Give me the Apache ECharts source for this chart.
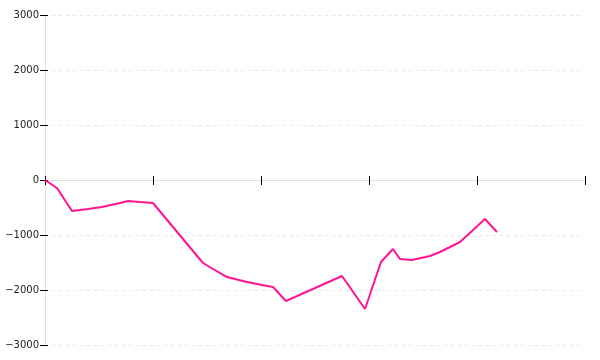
<!DOCTYPE html>
<html><head><meta charset="utf-8">
<script src="https://cdn.jsdelivr.net/npm/echarts@6/dist/echarts.min.js"></script>
<style>html,body{margin:0;padding:0;background:#fff}#c{width:600px;height:360px}</style>
</head><body><div id="c"></div>
<script>
const xValues = [0, 1.11, 2.5, 3.98, 5.28, 6.94, 7.69, 8.8, 10.0, 14.63, 16.85, 18.7, 20.09, 21.11, 22.31, 27.5, 29.63, 31.11, 32.22, 32.87, 33.98, 35.65, 36.57, 38.43, 40.74, 41.85];
const yValues = [0, -145, -564, -527, -491, -418, -382, -400, -418, -1509, -1764, -1855, -1909, -1945, -2200, -1745, -2345, -1491, -1255, -1436, -1455, -1382, -1309, -1127, -709, -945];
const yTicks = [-3000, -2000, -1000, 0, 1000, 2000, 3000];
const xTicks = [0, 10, 20, 30, 40, 50];

const chart = echarts.init(document.getElementById('c'), null, {renderer: 'canvas'});
const fmt = v => (v < 0 ? '\u2212' + Math.abs(v) : String(v));
chart.setOption({
  animation: false,
  grid: {left: 45, right: 15, top: 15, bottom: 15},
  xAxis: [{
    type: 'value', min: xTicks[0], max: xTicks[xTicks.length - 1], interval: 10,
    axisLine: {show: true, onZero: true, lineStyle: {color: '#dddddd', width: 1}},
    axisTick: {show: true, length: 5, lineStyle: {color: '#000', width: 1}},
    axisLabel: {show: false},
    splitLine: {show: false}
  }, {
    type: 'value', min: xTicks[0], max: xTicks[xTicks.length - 1], interval: 10,
    position: 'bottom',
    axisLine: {show: false, onZero: true},
    axisTick: {show: true, inside: true, length: 4, lineStyle: {color: '#000', width: 1}},
    axisLabel: {show: false},
    splitLine: {show: false}
  }],
  yAxis: [{
    type: 'value', min: yTicks[0], max: yTicks[yTicks.length - 1], interval: 1000,
    axisLine: {show: true, onZero: false, lineStyle: {color: '#dddddd', width: 1}},
    axisTick: {show: true, length: 5, lineStyle: {color: '#000', width: 1}},
    axisLabel: {show: true, margin: 6, color: '#222', fontSize: 10, fontFamily: 'DejaVu Sans', formatter: fmt},
    splitLine: {show: true, lineStyle: {color: '#e8e8e8', type: [3, 4], width: 1}}
  }, {
    type: 'value', min: yTicks[0], max: yTicks[yTicks.length - 1], interval: 1000,
    position: 'left',
    axisLine: {show: false, onZero: false},
    axisTick: {show: true, inside: true, length: 3, lineStyle: {color: '#000', width: 1}},
    axisLabel: {show: false},
    splitLine: {show: false}
  }],
  series: [{
    type: 'line',
    data: xValues.map((x, i) => [x, yValues[i]]),
    showSymbol: false,
    symbol: 'none',
    lineStyle: {color: '#ff1493', width: 2},
    itemStyle: {color: '#ff1493'}
  }]
});
</script></body></html>
